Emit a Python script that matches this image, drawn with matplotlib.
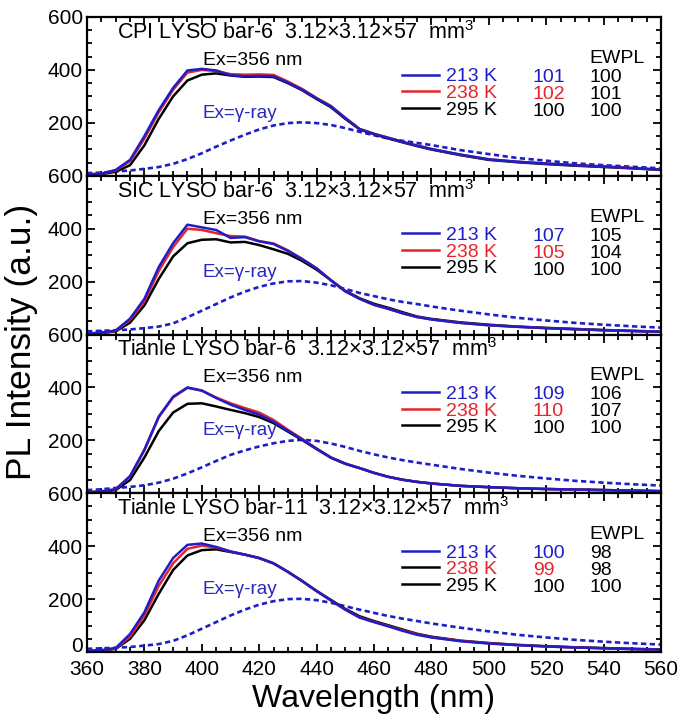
import matplotlib
matplotlib.use("Agg")
import matplotlib.pyplot as plt
from matplotlib.lines import Line2D
from matplotlib.ticker import MultipleLocator

plt.rcParams['font.family'] = ['Liberation Sans', 'DejaVu Sans']
plt.rcParams['mathtext.fontset'] = 'custom'
plt.rcParams['mathtext.rm'] = 'Liberation Sans'

# ---------------- data ----------------
wavelength = [360, 365, 370, 375, 380, 385, 390, 395, 400, 405, 410, 415, 420, 425, 430,
              435, 440, 445, 450, 455, 460, 465, 470, 475, 480, 490, 500, 510, 520, 530,
              540, 550, 560]

sample_titles = ["CPI LYSO bar-6", "SIC LYSO bar-6", "Tianle LYSO bar-6", "Tianle LYSO bar-11"]
dimension_text = "3.12\u00d73.12\u00d757  mm"
temperatures = ["213 K", "238 K", "295 K"]

# panel 1: CPI LYSO bar-6
cpi_213 = [5, 8, 22, 60, 150, 248, 332, 398, 404, 398, 380, 376, 377, 376, 352,
           325, 292, 262, 218, 176, 158, 143, 128, 114, 101, 80, 62, 53, 46, 40, 35, 29, 23]
cpi_238 = [5, 8, 20, 55, 140, 240, 325, 390, 400, 396, 384, 382, 383, 381, 356,
           328, 294, 264, 219, 177, 159, 144, 128, 114, 101, 80, 62, 53, 46, 40, 35, 29, 23]
cpi_295 = [4, 6, 15, 40, 115, 215, 300, 360, 382, 387, 379, 374, 375, 373, 350,
           323, 290, 259, 215, 175, 157, 141, 126, 112, 99, 78, 60, 51, 44, 38, 33, 28, 22]
cpi_gamma = [10, 12, 16, 20, 26, 33, 45, 63, 85, 110, 133, 155, 175, 190, 199,
             202, 199, 192, 180, 166, 153, 141, 132, 124, 116, 97, 82, 67, 57, 47, 40, 34, 28]

# panel 2: SIC LYSO bar-6
sic_213 = [4, 7, 15, 60, 135, 255, 345, 415, 405, 395, 365, 368, 352, 342, 316,
           285, 250, 205, 163, 135, 112, 97, 80, 66, 57, 44, 35, 29, 24, 20, 16, 13, 10]
sic_238 = [4, 6, 14, 55, 125, 240, 330, 400, 395, 383, 372, 370, 353, 344, 318,
           285, 250, 205, 163, 135, 112, 97, 80, 66, 57, 44, 35, 29, 24, 20, 16, 13, 10]
sic_295 = [3, 5, 12, 45, 110, 210, 295, 345, 358, 360, 348, 350, 338, 322, 305,
           278, 245, 205, 165, 137, 116, 101, 84, 68, 59, 46, 37, 30, 25, 21, 17, 14, 11]
sic_gamma = [12, 14, 16, 19, 24, 30, 42, 65, 90, 115, 140, 162, 180, 193, 201,
             202, 196, 186, 172, 157, 145, 133, 123, 115, 106, 90, 76, 63, 53, 44, 37, 31, 26]

# panel 3: Tianle LYSO bar-6
t6_213 = [4, 7, 15, 65, 165, 290, 365, 400, 388, 360, 335, 315, 297, 270, 236,
          203, 168, 135, 112, 95, 77, 62, 51, 43, 37, 28, 23, 19, 16, 14, 12, 10, 8]
t6_238 = [4, 7, 15, 63, 162, 287, 362, 398, 388, 362, 340, 322, 305, 277, 240,
          205, 169, 135, 112, 95, 77, 62, 51, 43, 37, 28, 23, 19, 16, 14, 12, 10, 8]
t6_295 = [3, 5, 12, 50, 135, 235, 305, 338, 340, 328, 315, 303, 288, 265, 233,
          201, 167, 134, 111, 95, 77, 62, 51, 43, 37, 28, 23, 19, 16, 14, 12, 10, 8]
t6_gamma = [12, 15, 20, 24, 30, 40, 55, 75, 98, 122, 145, 162, 177, 189, 198,
            202, 198, 188, 175, 160, 147, 135, 125, 116, 108, 92, 78, 66, 56, 47, 40, 34, 29]

# panel 4: Tianle LYSO bar-11
t11_213 = [4, 7, 15, 68, 150, 270, 355, 405, 410, 397, 380, 368, 355, 335, 303,
           268, 230, 195, 160, 130, 113, 97, 80, 65, 55, 41, 32, 26, 21, 17, 14, 11, 9]
t11_238 = [4, 6, 14, 58, 138, 250, 335, 390, 402, 395, 380, 368, 355, 335, 303,
           268, 230, 195, 160, 131, 114, 98, 82, 67, 56, 42, 33, 26, 21, 17, 14, 11, 9]
t11_295 = [3, 5, 12, 50, 120, 220, 310, 365, 385, 388, 378, 368, 355, 335, 303,
           268, 231, 197, 163, 135, 117, 101, 85, 69, 58, 43, 34, 27, 22, 18, 15, 12, 10]
t11_gamma = [12, 14, 16, 19, 24, 30, 42, 63, 88, 113, 138, 160, 179, 192, 200,
             201, 196, 186, 173, 160, 148, 136, 126, 117, 108, 92, 78, 65, 55, 46, 39, 33, 28]

# relative light output values (Ex=356 nm integral) and EWPL values
rel_lo = [["101", "102", "100"], ["107", "105", "100"], ["109", "110", "100"], ["100", "99", "100"]]
ewpl = [["100", "101", "100"], ["105", "104", "100"], ["106", "107", "100"], ["98", "98", "100"]]

panels = [
    (cpi_213, cpi_238, cpi_295, cpi_gamma),
    (sic_213, sic_238, sic_295, sic_gamma),
    (t6_213, t6_238, t6_295, t6_gamma),
    (t11_213, t11_238, t11_295, t11_gamma),
]

BLUE = '#1e1ec8'
RED = '#e4262c'
BLACK = '#000000'
TXT_BLUE = '#2828c0'

fig = plt.figure(figsize=(6.78, 7.2), dpi=100)
axes = fig.subplots(4, 1, sharex=True)
fig.subplots_adjust(left=87/678, right=661/678, bottom=(720-652)/720, top=(720-17)/720, hspace=0)

for i, ax in enumerate(axes):
    s213, s238, s295, sg = panels[i]
    ax.plot(wavelength, sg, color=BLUE, lw=1.9, ls=(0, (2.0, 1.3)))
    ax.plot(wavelength, s295, color=BLACK, lw=1.8)
    ax.plot(wavelength, s238, color=RED, lw=1.8)
    ax.plot(wavelength, s213, color=BLUE, lw=1.8)

    ax.set_xlim(360, 560)
    ax.set_ylim(0, 600)
    ax.xaxis.set_major_locator(MultipleLocator(20))
    ax.xaxis.set_minor_locator(MultipleLocator(5))
    ax.set_yticks([0, 200, 400, 600])
    ax.yaxis.set_minor_locator(MultipleLocator(50))
    if i < 3:
        ax.set_yticklabels(['', '200', '400', '600'])
    else:
        ax.set_yticklabels(['0', '200', '400', '600'])
        ax.get_yticklabels()[0].set_verticalalignment('baseline')
    ax.tick_params(which='both', direction='in', top=True, right=True, width=1.3,
                   labelsize=15, pad=3)
    ax.tick_params(axis='x', pad=6)
    ax.tick_params(which='major', length=6)
    ax.tick_params(which='minor', length=3.5)
    for sp in ax.spines.values():
        sp.set_linewidth(1.6)

    # title
    ax.text(0.052, 0.862, sample_titles[i] + "  " + dimension_text + "$^{3}$",
            transform=ax.transAxes, fontsize=15.5, va='baseline', ha='left')
    ax.text(0.202, 0.698, "Ex=356 nm", transform=ax.transAxes, fontsize=14,
            va='baseline', ha='left')
    ax.text(0.202, 0.365, "Ex=\u03b3-ray", transform=ax.transAxes, fontsize=13.5,
            va='baseline', ha='left', color=TXT_BLUE)

    # legend
    handle_colors = [BLUE, RED, BLACK] if i < 3 else [BLUE, BLACK, BLACK]
    label_colors = [BLUE, RED, BLACK]
    handles = [Line2D([], [], color=c, lw=1.8) for c in handle_colors]
    ax.legend(handles, temperatures, loc='upper left', bbox_to_anchor=(0.549, 0.68),
              frameon=False, fontsize=14, handlelength=1.9, handletextpad=0.35,
              labelspacing=-0.05, borderpad=0, borderaxespad=0, labelcolor=label_colors)

    ax.text(0.876, 0.711, "EWPL", transform=ax.transAxes, fontsize=14,
            va='baseline', ha='left')
    row_y = [0.591, 0.484, 0.377]
    for r in range(3):
        ax.text(0.777, row_y[r], rel_lo[i][r], transform=ax.transAxes, fontsize=14,
                va='baseline', ha='left', color=label_colors[r])
        ax.text(0.876, row_y[r], ewpl[i][r], transform=ax.transAxes, fontsize=14,
                va='baseline', ha='left', color=BLACK)

fig.text(0.032, 0.525, "PL Intensity (a.u.)", rotation=90, fontsize=25.5,
         ha='center', va='center')
fig.text(0.551, 0.029, "Wavelength (nm)", fontsize=23, ha='center', va='center')

fig.savefig("out.png", dpi=100)
